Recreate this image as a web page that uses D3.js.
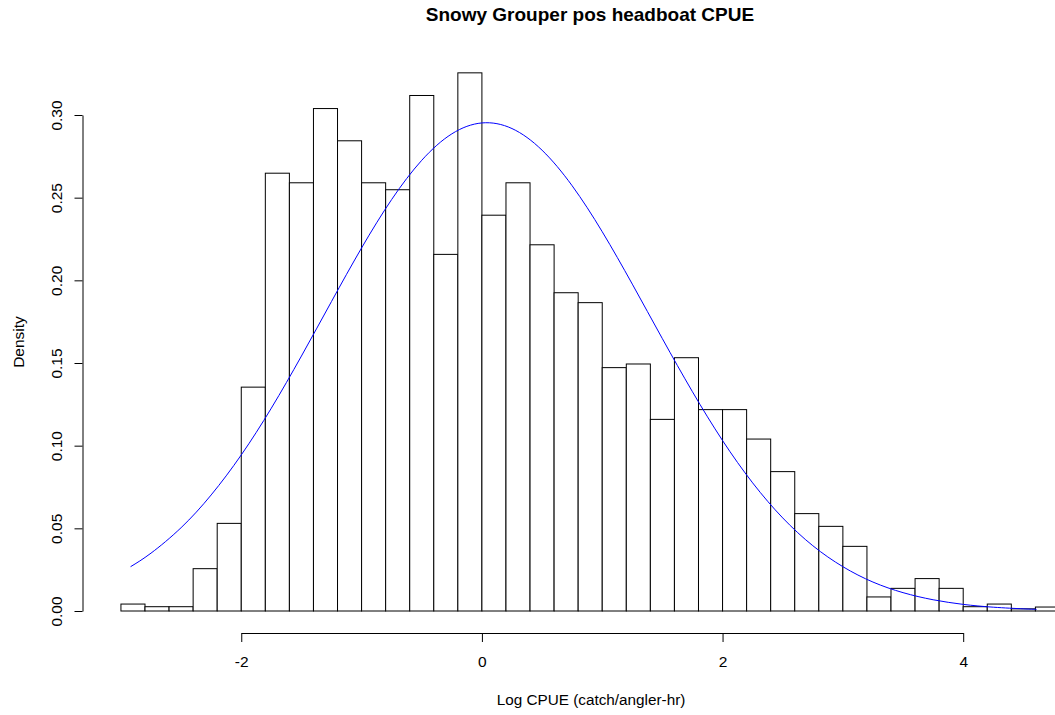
<!DOCTYPE html>
<html lang="en">
<head>
    <meta charset="UTF-8">
    <title>Snowy Grouper pos headboat CPUE</title>
    <style>
        body { margin: 0; background: #fff; }
        svg { display: block; font-family: "Liberation Sans", Arial, sans-serif; }
        .bar { fill: #fff; stroke: #000; stroke-width: 1; }
        .axis path, .axis line { stroke: #000; stroke-width: 1; fill: none; }
        .axis text { font-size: 15.5px; fill: #000; }
    </style>
</head>
<body>
    <div id="chart"></div>

    <script src="https://cdn.jsdelivr.net/npm/d3@7"></script>
    <script>
        // histogram bins: left edges (width 0.2) and density heights
        const binStarts = [-3.0, -2.8, -2.6, -2.4, -2.2, -2.0, -1.8, -1.6, -1.4, -1.2,
                           -1.0, -0.8, -0.6, -0.4, -0.2, 0.0, 0.2, 0.4, 0.6, 0.8,
                           1.0, 1.2, 1.4, 1.6, 1.8, 2.0, 2.2, 2.4, 2.6, 2.8,
                           3.0, 3.2, 3.4, 3.6, 3.8, 4.0, 4.2, 4.4, 4.6];
        const densities = [0.0042, 0.0026, 0.0026, 0.0256, 0.0530, 0.1354, 0.2648, 0.2590, 0.3039, 0.2844,
                           0.2590, 0.2548, 0.3118, 0.2157, 0.3255, 0.2394, 0.2590, 0.2215, 0.1925, 0.1865,
                           0.1472, 0.1494, 0.1159, 0.1532, 0.1218, 0.1218, 0.1040, 0.0843, 0.0589, 0.0512,
                           0.0391, 0.0085, 0.0137, 0.0196, 0.0137, 0.0026, 0.0042, 0.0013, 0.0024];
        const binWidth = 0.2;

        // fitted normal curve
        const curveX = [-2.92, -2.75, -2.5, -2.25, -2.0, -1.75, -1.5, -1.25, -1.0, -0.75,
                        -0.5, -0.25, 0.0, 0.25, 0.5, 0.75, 1.0, 1.25, 1.5, 1.75,
                        2.0, 2.25, 2.5, 2.75, 3.0, 3.25, 3.5, 3.75, 4.0, 4.25, 4.5, 4.61];
        const curveY = [0.0268, 0.0350, 0.0504, 0.0702, 0.0944, 0.1227, 0.1542, 0.1872, 0.2196, 0.2489,
                        0.2726, 0.2886, 0.2952, 0.2918, 0.2787, 0.2572, 0.2294, 0.1977, 0.1647, 0.1326,
                        0.1031, 0.0775, 0.0563, 0.0395, 0.0268, 0.0175, 0.0111, 0.0068, 0.0040, 0.0023, 0.0013, 0.0010];

        const xTicks = [-2, 0, 2, 4];
        const yTicks = [0.00, 0.05, 0.10, 0.15, 0.20, 0.25, 0.30];

        const width = 1055, height = 715;
        const svg = d3.select("#chart").append("svg").attr("width", width).attr("height", height);

        // plot region (R style: 4% padding around data range)
        const x = d3.scaleLinear().domain([-3.312, 5.112]).range([83.4, 1097]);
        const y = d3.scaleLinear().domain([0, 0.30]).range([611, 115]);
        const axisY0 = 633, axisX0 = 82.5;

        svg.append("g")
            .selectAll("rect")
            .data(binStarts.map((b, i) => ({ x0: b, x1: b + binWidth, d: densities[i] })))
            .enter().append("rect")
            .attr("class", "bar")
            .attr("x", d => x(d.x0))
            .attr("width", d => x(d.x1) - x(d.x0))
            .attr("y", d => y(d.d))
            .attr("height", d => y(0) - y(d.d));

        const line = d3.line()
            .x((d, i) => x(curveX[i]))
            .y(d => y(d))
            .curve(d3.curveNatural);

        svg.append("path")
            .attr("d", line(curveY))
            .attr("fill", "none")
            .attr("stroke", "#0000ff")
            .attr("stroke-width", 1);

        // x axis, line only between first and last tick
        const xAxisScale = x.copy().domain([xTicks[0], xTicks[xTicks.length - 1]])
            .range([x(xTicks[0]), x(xTicks[xTicks.length - 1])]);
        svg.append("g")
            .attr("class", "axis")
            .attr("transform", `translate(0,${axisY0})`)
            .call(d3.axisBottom(xAxisScale).tickValues(xTicks).tickSize(9).tickSizeOuter(0).tickPadding(14)
                .tickFormat(d => d3.format("d")(d).replace("−", "-")));

        // y axis with rotated labels
        const yAxisScale = y.copy().domain([0, 0.30]).range([y(0), y(0.30)]);
        const gy = svg.append("g")
            .attr("class", "axis")
            .attr("transform", `translate(${axisX0},0)`)
            .call(d3.axisLeft(yAxisScale).tickValues(yTicks).tickSize(8).tickSizeOuter(0).tickFormat(d3.format(".2f")));
        gy.selectAll(".tick text")
            .attr("x", null).attr("dy", null)
            .attr("text-anchor", "middle")
            .attr("transform", "translate(-21,0) rotate(-90)");

        svg.append("text")
            .attr("x", 590).attr("y", 21)
            .attr("text-anchor", "middle")
            .attr("font-size", 19).attr("font-weight", "bold")
            .text("Snowy Grouper pos headboat CPUE");

        svg.append("text")
            .attr("x", 591).attr("y", 705)
            .attr("text-anchor", "middle")
            .attr("font-size", 15.3)
            .text("Log CPUE (catch/angler-hr)");

        svg.append("text")
            .attr("transform", "translate(24,342) rotate(-90)")
            .attr("text-anchor", "middle")
            .attr("font-size", 15.5)
            .text("Density");
    </script>
</body>
</html>
